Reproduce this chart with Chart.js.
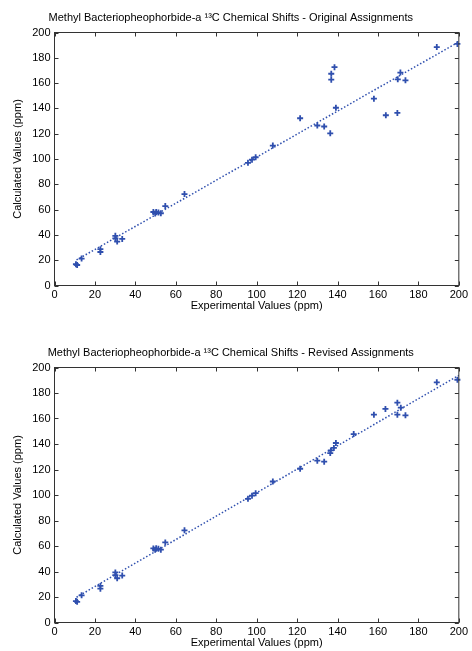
<!DOCTYPE html>
<html>
<head>
<meta charset="utf-8">
<script src="https://cdn.jsdelivr.net/npm/chart.js"></script>
<style>
body{margin:0;background:#fff;width:472px;height:651px;overflow:hidden;position:relative;}
canvas{position:absolute;left:0;}
</style>
</head>
<body>
<canvas id="topChart" width="472" height="325" style="top:0"></canvas>
<canvas id="bottomChart" width="472" height="316" style="top:335px"></canvas>
<script>
// axis ticks (both axes, both charts)
var tickValues = [0, 20, 40, 60, 80, 100, 120, 140, 160, 180, 200];

// points that are the same in both assignments
var expCommon  = [10.6, 11.2, 13.4, 22.7, 22.7, 30.1, 30.1, 31.0, 33.5, 48.9, 49.8, 50.3, 51.4, 52.6, 54.8, 64.3, 95.7, 97.7, 99.5, 108.0];
var calcCommon = [16.8, 16.2, 21.3, 28.7, 26.5, 39.3, 37.2, 34.7, 36.8, 58.1, 57.0, 58.2, 57.8, 57.1, 62.8, 72.3, 97.0, 99.5, 101.4, 110.6];

// original assignments (upper range)
var expOriginal  = [121.5, 130.0, 133.4, 136.4, 139.2, 136.9, 136.9, 138.5, 158.0, 163.9, 169.6, 169.8, 171.1, 173.6, 189.1, 199.3];
var calcOriginal = [132.2, 126.5, 125.7, 120.3, 140.5, 162.7, 167.4, 172.6, 147.7, 134.6, 136.4, 163.0, 168.3, 162.2, 188.5, 191.0];

// revised assignments (upper range)
var expRevised  = [121.5, 130.0, 133.4, 136.4, 136.7, 138.2, 139.2, 148.0, 158.0, 163.7, 169.6, 169.6, 171.3, 173.6, 189.1, 199.3];
var calcRevised = [120.6, 126.9, 126.1, 132.9, 135.0, 136.9, 140.8, 147.8, 163.0, 167.5, 172.4, 163.0, 168.5, 162.5, 188.4, 190.4];

// dotted fit lines, end points
var fitOriginalX = [10.9, 200];
var fitOriginalY = [20.2, 192.6];
var fitRevisedX  = [10.9, 200];
var fitRevisedY  = [19.8, 193.9];

var blue = '#2f4fae';
var fontFam = '"Liberation Sans", Arial, Helvetica, sans-serif';

function toPoints(xs, ys) {
    var pts = [];
    for (var i = 0; i < xs.length; i++) pts.push({x: xs[i], y: ys[i]});
    return pts;
}

var boxPlugin = {
    id: 'boxTicks',
    afterDatasetsDraw: function(chart) {
        var ctx = chart.ctx, a = chart.chartArea, x = chart.scales.x, y = chart.scales.y;
        ctx.save();
        ctx.strokeStyle = '#333';
        ctx.lineWidth = 1;
        ctx.beginPath();
        tickValues.forEach(function(v) {
            var px = Math.round(x.getPixelForValue(v)) + 0.5;
            ctx.moveTo(px, a.bottom); ctx.lineTo(px, a.bottom - 4);
            ctx.moveTo(px, a.top); ctx.lineTo(px, a.top + 4);
            var py = Math.round(y.getPixelForValue(v)) + 0.5;
            ctx.moveTo(a.left, py); ctx.lineTo(a.left + 4, py);
            ctx.moveTo(a.right, py); ctx.lineTo(a.right - 4, py);
        });
        ctx.stroke();
        ctx.strokeRect(a.left, a.top, a.right - a.left, a.bottom - a.top);
        ctx.restore();
    }
};

function makeChart(id, title, xs, ys, fx, fy, canvasH, areaBottom, xTitlePad) {
    return new Chart(document.getElementById(id), {
        type: 'scatter',
        data: {
            datasets: [
                {
                    data: toPoints(fx, fy),
                    showLine: true,
                    borderColor: blue,
                    borderWidth: 1.5,
                    borderDash: [1.5, 2],
                    pointRadius: 0,
                    clip: false
                },
                {
                    data: toPoints(xs, ys),
                    pointStyle: 'cross',
                    pointRadius: 3,
                    borderWidth: 1.8,
                    borderColor: blue,
                    backgroundColor: blue,
                    clip: false
                }
            ]
        },
        options: {
            responsive: false,
            animation: false,
            layout: {padding: {left: 0, right: 10.5, top: 0, bottom: 0}},
            plugins: {
                legend: {display: false},
                tooltip: {enabled: false},
                title: {
                    display: true,
                    text: title,
                    color: '#000',
                    font: {family: fontFam, size: 11, weight: 'normal', lineHeight: 1.2},
                    padding: {top: 11.4, bottom: 7.9}
                }
            },
            scales: {
                x: {
                    type: 'linear',
                    min: 0, max: 200,
                    afterBuildTicks: function(s) { s.ticks = tickValues.map(function(v) { return {value: v}; }); },
                    afterFit: function(s) { s.height = canvasH - areaBottom; },
                    grid: {display: false, drawTicks: false},
                    border: {display: false},
                    ticks: {color: '#000', padding: 4, maxRotation: 0, autoSkip: false,
                            font: {family: fontFam, size: 11, lineHeight: 1}},
                    title: {display: true, text: 'Experimental Values (ppm)', color: '#000',
                            font: {family: fontFam, size: 11, lineHeight: 1},
                            padding: {top: 0, bottom: xTitlePad}}
                },
                y: {
                    type: 'linear',
                    min: 0, max: 200,
                    afterBuildTicks: function(s) { s.ticks = tickValues.map(function(v) { return {value: v}; }); },
                    afterFit: function(s) { s.width = 54.5; },
                    grid: {display: false, drawTicks: false},
                    border: {display: false},
                    ticks: {color: '#000', padding: 4, autoSkip: false,
                            font: {family: fontFam, size: 11, lineHeight: 1}},
                    title: {display: true, text: 'Calculated Values (ppm)', color: '#000',
                            font: {family: fontFam, size: 11, lineHeight: 1},
                            padding: {top: 12.5, bottom: 0}}
                }
            }
        },
        plugins: [boxPlugin]
    });
}

makeChart('topChart',
    'Methyl Bacteriopheophorbide-a \u00B9\u00B3C Chemical Shifts - Original Assignments',
    expCommon.concat(expOriginal), calcCommon.concat(calcOriginal),
    fitOriginalX, fitOriginalY, 325, 285.5, 13.5);

makeChart('bottomChart',
    'Methyl Bacteriopheophorbide-a \u00B9\u00B3C Chemical Shifts - Revised Assignments',
    expCommon.concat(expRevised), calcCommon.concat(calcRevised),
    fitRevisedX, fitRevisedY, 316, 287.5, 2.5);
</script>
</body>
</html>
